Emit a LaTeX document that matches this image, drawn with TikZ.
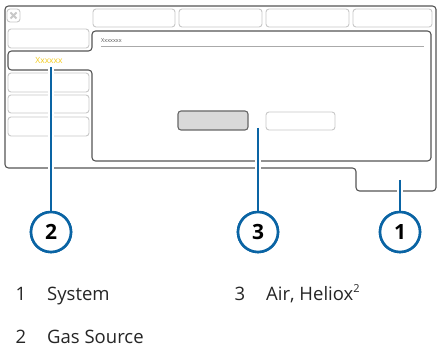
\documentclass[tikz,border=0pt]{standalone}
\usepackage{fontspec}
\setmainfont{Open Sans}
\definecolor{framegray}{HTML}{555555}
\definecolor{tabgray}{HTML}{C8C8C8}
\definecolor{calblue}{HTML}{0A64A4}
\definecolor{xyellow}{HTML}{F2CB1D}
\definecolor{btnfill}{HTML}{D9D9D9}
\definecolor{legendtext}{HTML}{262626}
\begin{document}
\begin{tikzpicture}[x=1pt,y=-1pt,
  tabbox/.style={draw=tabgray, line width=0.9pt, rounded corners=3pt},
  framebox/.style={draw=framegray, line width=1.1pt, rounded corners=3.5pt},
  halo/.style={draw=white, line width=6pt},
  callline/.style={draw=calblue, line width=2pt},
  callcircle/.style={circle, draw=calblue, line width=2.6pt, minimum size=40pt, inner sep=0pt, fill=white, text=black, font=\bfseries\fontsize{21}{21}\selectfont},
  legnum/.style={anchor=base, inner sep=0pt, text=legendtext, font=\fontsize{18.5}{20}\selectfont},
  legtext/.style={anchor=base west, inner sep=0pt, text=legendtext, font=\fontsize{18.5}{20}\selectfont}]
\useasboundingbox[fill=white] (0,0) rectangle (438,355);

% outer window frame
\draw[framebox] (5,6) -- (436,6) -- (436,191) -- (356,191) -- (356,168) -- (5,168) -- cycle;

% close button
\draw[tabbox] (7,9) rectangle (20,22);
\draw[draw=tabgray, line width=2pt] (10.5,12.5) -- (16.5,18.5) (16.5,12.5) -- (10.5,18.5);

% top tabs
\draw[tabbox] (93,9) rectangle (175,27);
\draw[tabbox] (179,9) rectangle (262,27);
\draw[tabbox] (266,9) rectangle (349,27);
\draw[tabbox] (353,9) rectangle (432,27);

% left tabs
\draw[tabbox] (8,29) rectangle (89,48);
\draw[tabbox] (8,73) rectangle (89,92);
\draw[tabbox] (8,95) rectangle (89,113);
\draw[tabbox] (8,117) rectangle (89,136);

% main panel joined with the selected tab
\draw[framebox] (8,51) -- (92,51) -- (92,31) -- (431,31) -- (431,161) -- (92,161) -- (92,70) -- (8,70) -- cycle;
\node[anchor=center, text=xyellow, font=\fontsize{8.5}{8.5}\selectfont] (seltab) at (49,60) {Xxxxxx};

% panel header
\node[anchor=west, inner sep=0pt, text=framegray, font=\fontsize{5.5}{6}\selectfont] (header) at (101,41) {Xxxxxxx};
\draw[draw=tabgray!85!black, line width=1pt] (101,47) -- (424,47);

% buttons
\draw[draw=framegray!90, fill=btnfill, line width=1.1pt, rounded corners=3pt] (178,111) rectangle (248,130);
\draw[tabbox, fill=white] (266,112) rectangle (335,130);

% callouts
\coordinate (s1) at (400,180);
\coordinate (s2) at (51,67);
\coordinate (s3) at (258,128);
\node[callcircle] (n1) at (400,232) {1};
\node[callcircle] (n2) at (51,232) {2};
\node[callcircle] (n3) at (258,232) {3};
\path[halo] (s1) -- (n1.north);
\path[halo] (s2) -- (n2.north);
\path[halo] (s3) -- (n3.north);
\draw[callline] (s1) -- (n1.north);
\draw[callline] (s2) -- (n2.north);
\draw[callline] (s3) -- (n3.north);
\node[callcircle] at (400,232) {1};
\node[callcircle] at (51,232) {2};
\node[callcircle] at (258,232) {3};

% legend
\node[legnum] (l1) at (21,300) {1};
\node[legtext] (t1) at (47,300) {System};
\node[legnum] (l3) at (240,300) {3};
\node[legtext] (t3) at (266,300) {Air, Heliox\raisebox{0.38em}{\fontsize{11}{11}\selectfont 2}};
\node[legnum] (l2) at (21,343) {2};
\node[legtext] (t2) at (47,343) {Gas Source};
\end{tikzpicture}
\end{document}
